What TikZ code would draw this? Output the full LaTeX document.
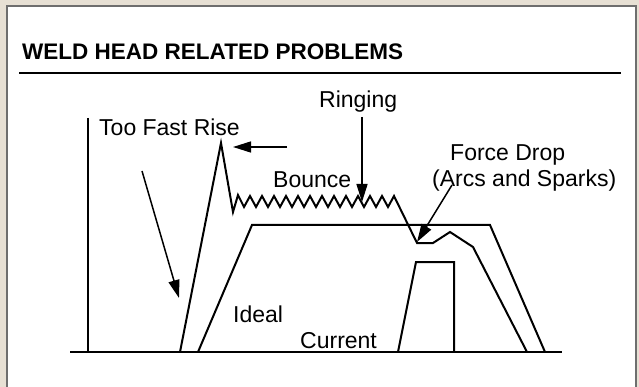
\documentclass[tikz,border=0pt]{standalone}
\usepackage{fontspec}
\setmainfont{Liberation Sans}
\usepackage{tikz}
\usetikzlibrary{arrows.meta, positioning, calc}
\definecolor{PanelBeige}{RGB}{231,224,212}
\definecolor{PanelEdge}{RGB}{110,110,110}

\begin{document}
\begin{tikzpicture}[x=1pt, y=-1pt,
    lbl/.style={font=\fontsize{23}{27}\selectfont, inner sep=0pt, anchor=base west},
    trace/.style={line width=2pt, line join=miter},
    pointer/.style={line width=1.5pt, -{Triangle[length=18pt, width=11pt]}}]
  \useasboundingbox (0,0) rectangle (639,387);
  \fill[PanelBeige] (0,0) rectangle (639,387);
  \fill[white] (7,6) rectangle (636,400);
  \draw[PanelEdge, line width=2pt] (7,400) |- (636,6) -- (636,400);

  % Title and rule
  \node[font=\fontsize{22.5}{27}\selectfont\bfseries, inner sep=0pt, anchor=base west]
        (title) at (22,60) {WELD HEAD RELATED PROBLEMS};
  \draw[line width=2pt] (19,73) -- (621,73);

  % Axes
  \draw[line width=2.5pt] (88,118) -- (88,352);
  \draw[line width=2pt] (70,352) -- (562,352);

  % Ideal and current
  \draw[trace] (198,352) -- (252,225) -- (490,225) -- (545,352);
  \draw[trace] (398,352) -- (416,262) -- (454,262) -- (454,352);

  % Weld head force with bounce
  \draw[trace] (180,352) -- (221,143) -- (233,212) -- (238,195)
        \foreach \k in {1,...,13} { -- ({232+12*\k},207) -- ({238+12*\k},196) }
        -- (417,243) -- (433,243) -- (450,232) -- (473,247) -- (527,352);

  % Labels
  \node[lbl] (toofast) at (99,136) {Too Fast Rise};
  \node[lbl] (ringing) at (319,108) {Ringing};
  \node[lbl] (bounce) at (273,188) {Bounce};
  \node[lbl] (forcedrop) at (450,161) {Force Drop};
  \node[lbl] (arcs) at (432,187) {(Arcs and Sparks)};
  \node[lbl] (ideal) at (233,322) {Ideal};
  \node[lbl] (current) at (300,348) {Current};

  % Pointers
  \coordinate (rise tail) at (142,171);  \coordinate (rise tip) at (179,298);
  \coordinate (peak tail) at (287,147);  \coordinate (peak tip) at (233,147);
  \coordinate (ring tail) at (362,117);  \coordinate (ring tip) at (362,202);
  \coordinate (drop tail) at (452,185);  \coordinate (drop tip) at (417,242);
  \draw[pointer] (rise tail) -- (rise tip);
  \draw[pointer] (peak tail) -- (peak tip);
  \draw[pointer] (ring tail) -- (ring tip);
  \draw[pointer] (drop tail) -- (drop tip);
\end{tikzpicture}
\end{document}
